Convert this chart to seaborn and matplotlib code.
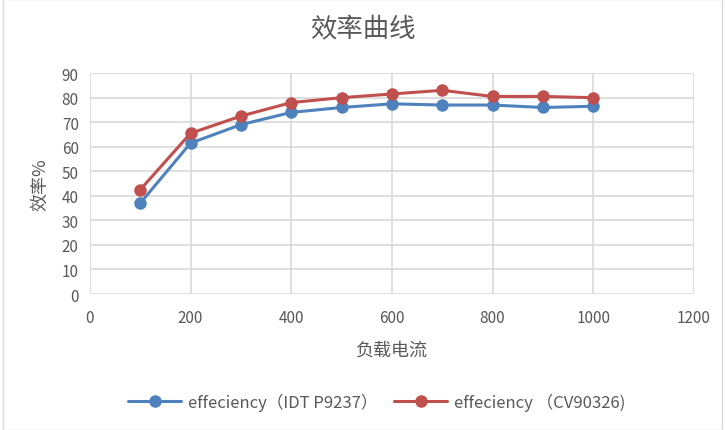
import numpy as np
import pandas as pd
import matplotlib
matplotlib.use("Agg")
import matplotlib.pyplot as plt
import seaborn as sns

# data
load_current = [100, 200, 300, 400, 500, 600, 700, 800, 900, 1000]
eff_idt = [37, 61.5, 69, 74, 76, 77.5, 77, 77, 76, 76.5]
eff_cv = [42.5, 65.5, 72.5, 78, 80, 81.5, 83, 80.5, 80.5, 80]
label_idt = "effeciency（IDT P9237）"
label_cv = "effeciency （CV90326)"

df = pd.DataFrame({
    "load": load_current * 2,
    "eff": eff_idt + eff_cv,
    "series": [label_idt] * len(eff_idt) + [label_cv] * len(eff_cv),
})

sns.set_style("white")
plt.rcParams['font.family'] = ['Noto Sans CJK SC', 'DejaVu Sans']

text_color = "#595959"
grid_color = "#d9d9d9"

fig = plt.figure(figsize=(7.25, 4.31), dpi=100)
ax = fig.add_axes([0.124, 0.3155, 0.833, 0.5125])

sns.lineplot(data=df, x="load", y="eff", hue="series",
             palette={label_idt: "#4F81BD", label_cv: "#C0504D"},
             marker="o", markersize=9, markeredgewidth=0, linewidth=2.2,
             ax=ax)

ax.set_xlim(0, 1200)
ax.set_ylim(0, 90)
ax.set_xticks(np.arange(0, 1201, 200))
ax.set_yticks(np.arange(0, 91, 10))
ax.grid(True, color=grid_color, linewidth=1.2)
ax.set_axisbelow(True)
for s in ax.spines.values():
    s.set_visible(False)
ax.tick_params(axis="both", length=0, labelsize=11, colors=text_color)
ax.tick_params(axis="x", pad=11)
ax.tick_params(axis="y", pad=8)

ax.set_xlabel("负载电流", fontsize=13, color=text_color, labelpad=10)
ax.set_ylabel("效率%", fontsize=13, color=text_color, labelpad=9)
fig.suptitle("效率曲线", fontsize=19, color=text_color, y=0.965)

ax.legend(loc="upper center", bbox_to_anchor=(0.475, -0.38), ncol=2,
          frameon=False, fontsize=12, labelcolor=text_color,
          handlelength=3.2, columnspacing=1.0, handletextpad=0.4)

# thin outer frame like the spreadsheet chart area
fig.patches.append(plt.Rectangle((0.004, 0.0), 0.992, 1.0, transform=fig.transFigure,
                                 fill=False, edgecolor=grid_color, linewidth=1))

fig.savefig("out.png", dpi=100)
